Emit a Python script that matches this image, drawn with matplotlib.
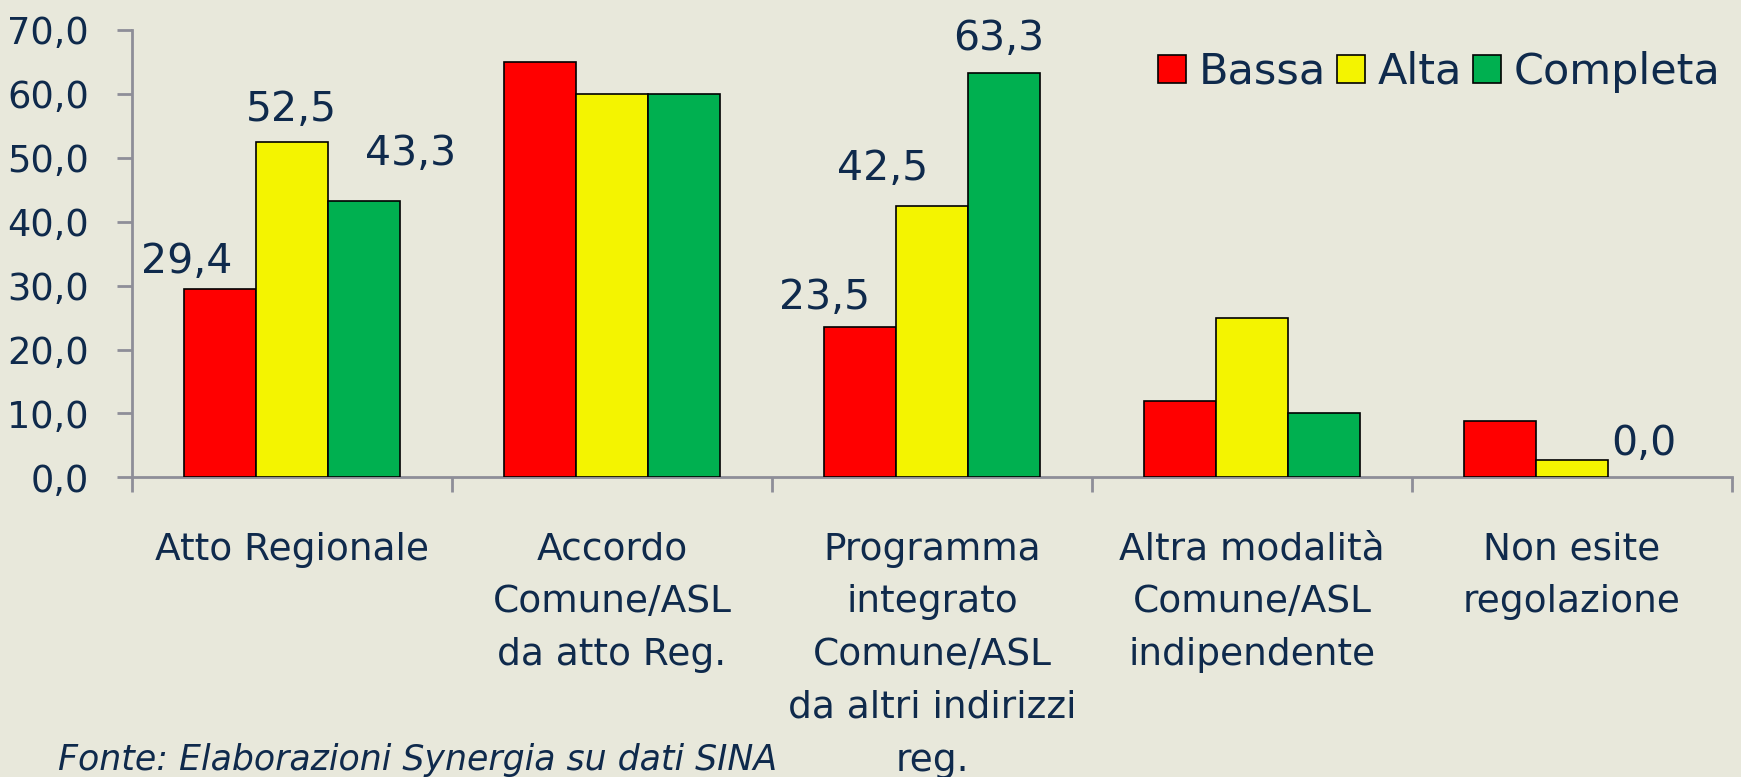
import matplotlib
matplotlib.use("Agg")
import numpy as np
import matplotlib.pyplot as plt
from matplotlib.patches import Rectangle

# data
categories = ["Atto Regionale",
              "Accordo\nComune/ASL\nda atto Reg.",
              "Programma\nintegrato\nComune/ASL\nda altri indirizzi\nreg.",
              "Altra modalità\nComune/ASL\nindipendente",
              "Non esite\nregolazione"]
series_names = ["Bassa", "Alta", "Completa"]
bassa = [29.4, 65.0, 23.5, 12.0, 8.8]
alta = [52.5, 60.0, 42.5, 25.0, 2.8]
completa = [43.3, 60.0, 63.3, 10.0, 0.0]
yticks = [0, 10, 20, 30, 40, 50, 60, 70]

# which bars get a value label: (series index, category index, dx px, dy px)
labelled = [(0, 0, -33, 16), (1, 0, -1, 21), (2, 0, 47, 36),
            (0, 2, -35, 18), (1, 2, -49, 26), (2, 2, -5, 23),
            (2, 4, 0, 22)]

colors = ["#FF0000", "#F4F400", "#00B050"]
txt = "#0F2A4C"
axc = "#8E8E98"
bg = "#E8E8DB"

plt.rcParams['font.family'] = ['DejaVu Sans']

fig = plt.figure(figsize=(17.41, 7.77), dpi=100, facecolor=bg)
ax = fig.add_axes([132 / 1741, 1 - 477.4 / 777, 1600 / 1741, 447.4 / 777])
ax.set_facecolor(bg)

x = np.arange(len(categories))
w = 0.225
values = [bassa, alta, completa]
for k, vals in enumerate(values):
    lw = [1.2 if v > 0 else 0 for v in vals]
    ax.bar(x + (k - 1) * w, vals, w, color=colors[k], edgecolor="black",
           linewidth=lw, label=series_names[k], zorder=3)

for s, c, dx, dy in labelled:
    v = values[s][c]
    ax.annotate(f"{v:.1f}".replace(".", ","), (x[c] + (s - 1) * w, v),
                xytext=(dx, dy), textcoords="offset pixels",
                ha="center", va="baseline", fontsize=29.5, color=txt)

ax.set_xlim(-0.5, len(categories) - 0.5)
ax.set_ylim(0, 70)
ax.set_yticks(yticks)
ax.set_yticklabels([f"{t:.1f}".replace(".", ",") for t in yticks])

ax.set_xticks(np.arange(len(categories) + 1) - 0.5)
ax.set_xticklabels([])
ax.set_xticks(x, minor=True)
ax.set_xticklabels(categories, minor=True, fontsize=27, color=txt,
                   linespacing=1.6)
ax.tick_params(axis="x", which="minor", length=0, pad=39)
ax.tick_params(axis="x", which="major", length=11, width=2, color=axc)
ax.tick_params(axis="y", length=11, width=2, color=axc, labelsize=26.5,
               labelcolor=txt, pad=20)

for side in ["top", "right"]:
    ax.spines[side].set_visible(False)
for side in ["left", "bottom"]:
    ax.spines[side].set_color(axc)
    ax.spines[side].set_linewidth(2)

handles = [Rectangle((0, 0), 1, 1, facecolor=c, edgecolor="black", linewidth=1.2)
           for c in colors]
fig.legend(handles, series_names, loc="center right",
           bbox_to_anchor=(1738 / 1741, 1 - 72 / 777), ncol=3, frameon=False,
           fontsize=31, labelcolor=txt, handlelength=0.65, handleheight=0.65,
           handletextpad=0.3, columnspacing=0.25, borderaxespad=0)

fig.text(58 / 1741, 0, "Fonte: Elaborazioni Synergia su dati SINA",
         fontsize=25, style="italic", color=txt, ha="left", va="bottom")

fig.savefig("out.png", dpi=100, facecolor=bg)
